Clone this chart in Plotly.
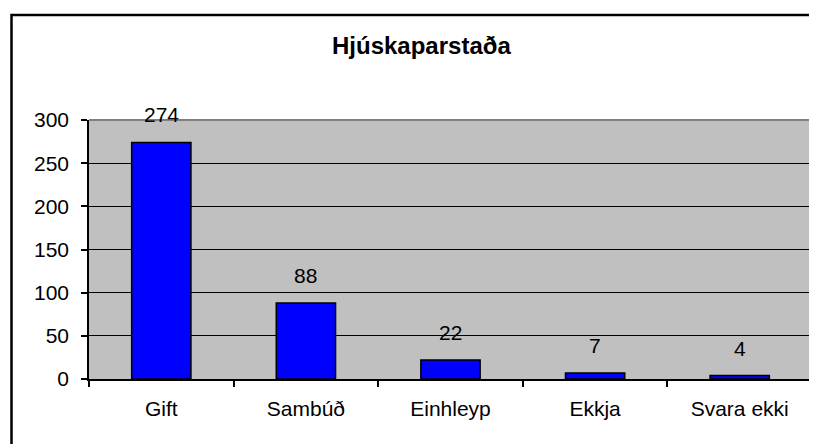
import plotly.graph_objects as go

categories = ["Gift", "Sambúð", "Einhleyp", "Ekkja", "Svara ekki"]
values = [274, 88, 22, 7, 4]
title_text = "Hjúskaparstaða"
y_ticks = [0, 50, 100, 150, 200, 250, 300]

# page body has an 8px margin; work in window pixels and convert
OFF = 8
W, H = 817 - OFF, 444 - OFF
PL, PR, PT, PB = 89, 812, 120, 379  # plot area in window px
L, R, T, B = PL - OFF, W - (PR - OFF), PT - OFF, H - (PB - OFF)
pw = PR - PL
ph = PB - PT

def px2x(px):
    return (px - PL) / pw

def py2y(py):
    return (PB - py) / ph

font = "Arial, Liberation Sans, sans-serif"

fig = go.Figure()
fig.add_trace(go.Bar(
    x=categories, y=values, width=0.41,
    marker=dict(color="#0000FF", line=dict(color="#000000", width=1.5)),
    showlegend=False, hoverinfo="skip",
))

annotations = []
for c, v in zip(categories, values):
    annotations.append(dict(
        x=c, y=v, xref="x", yref="y", text=str(v), showarrow=False,
        yanchor="bottom", yshift=14, font=dict(family=font, size=21, color="#000000"),
    ))
annotations.append(dict(
    x=px2x(421.5), y=py2y(46), xref="paper", yref="paper", text="<b>" + title_text + "</b>",
    showarrow=False, xanchor="center", yanchor="middle",
    font=dict(family=font, size=24, color="#000000"),
))

shapes = [
    dict(type="rect", xref="paper", yref="paper",
         x0=px2x(11.5), x1=px2x(850), y0=py2y(15), y1=py2y(470),
         line=dict(color="#000000", width=2.5), fillcolor="rgba(0,0,0,0)", layer="below"),
    dict(type="line", xref="paper", yref="paper", x0=0, x1=1, y0=1, y1=1,
         line=dict(color="#808080", width=2), layer="above"),
    dict(type="line", xref="paper", yref="paper", x0=1, x1=1, y0=0, y1=1,
         line=dict(color="#808080", width=2), layer="above"),
]

fig.update_layout(
    width=W, height=H,
    margin=dict(l=L, r=R, t=T, b=B, pad=0),
    paper_bgcolor="#FFFFFF", plot_bgcolor="#C0C0C0",
    font=dict(family=font, size=21, color="#000000"),
    annotations=annotations, shapes=shapes,
)
fig.update_xaxes(
    type="category", tickson="boundaries", ticks="outside", ticklen=6, tickwidth=1.5,
    tickcolor="#000000", showline=True, linecolor="#000000", linewidth=1.5,
    showgrid=False, tickfont=dict(family=font, size=21, color="#000000"),
    ticklabelstandoff=10,
)
fig.update_yaxes(
    range=[0, 300], tickvals=y_ticks, ticks="outside", ticklen=6, tickwidth=1.5,
    tickcolor="#000000", showline=True, linecolor="#000000", linewidth=1.5,
    showgrid=True, gridcolor="#000000", gridwidth=1.3, zeroline=False,
    tickfont=dict(family=font, size=21, color="#000000"),
    ticklabelstandoff=8,
)

fig.write_html("out.html")
